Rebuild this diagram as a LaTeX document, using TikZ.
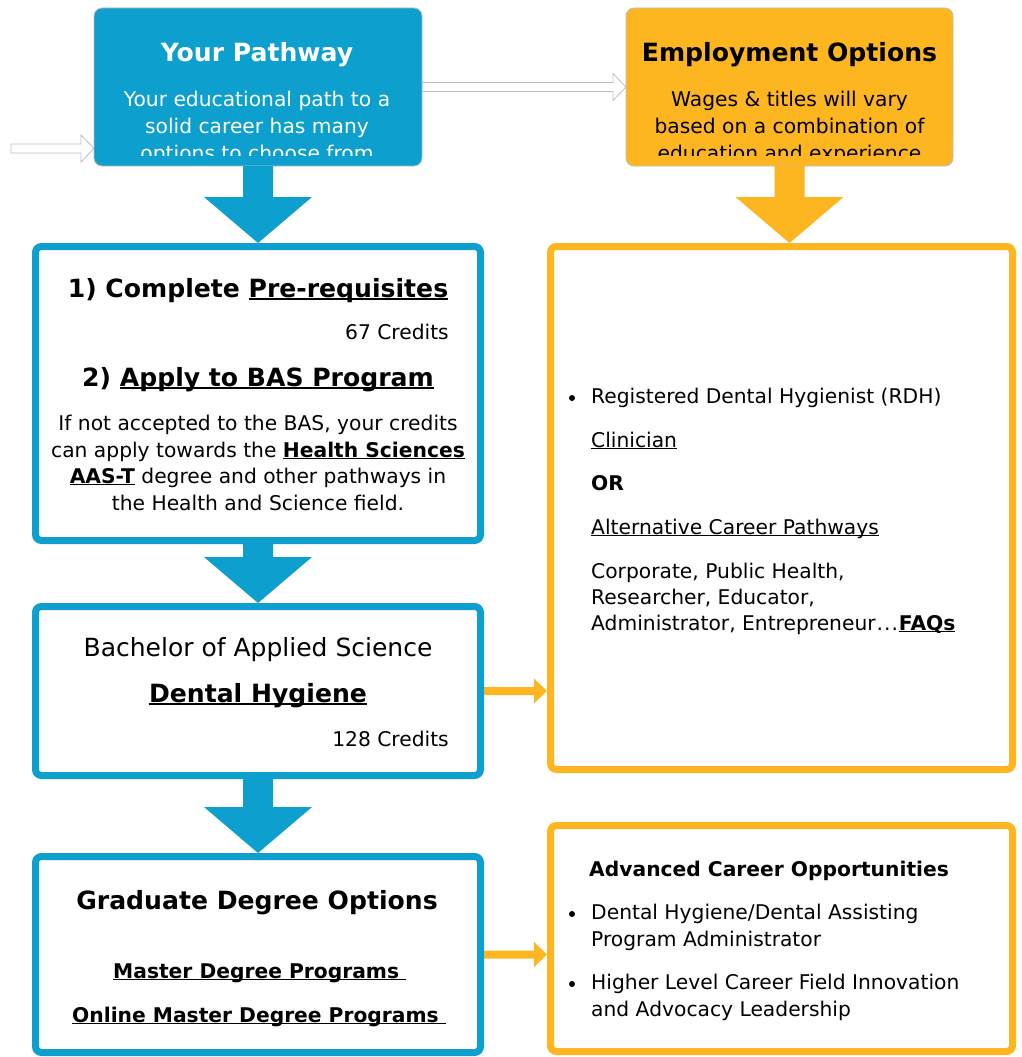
\documentclass[tikz,border=0pt]{standalone}
\usepackage{fontspec}
\setmainfont{DejaVu Sans}
\usetikzlibrary{calc}
\definecolor{cblue}{RGB}{13,159,206}
\definecolor{corange}{RGB}{253,181,32}
\definecolor{cgray}{RGB}{190,190,190}
\newcommand\myul[1]{{\setbox0=\hbox{#1}\rlap{\copy0}\rule[-0.12em]{\wd0}{0.065em}}}
\newcommand\hdfont{\fontsize{25.1}{30}\selectfont\bfseries}
\newcommand\bigfont{\fontsize{25}{30}\selectfont}
\newcommand\txfont{\fontsize{20.25}{26}\selectfont}
\newcommand\blockdown[3]{%
  \coordinate (tmptip) at (#1.south |- #2.north);
  \fill[#3] ($(#1.south)+(-15,0)$) -- ($(#1.south)+(15,0)$) -- ($(tmptip)+(15,-46)$) --
    ($(tmptip)+(54,-46)$) -- (tmptip) -- ($(tmptip)+(-54,-46)$) -- ($(tmptip)+(-15,-46)$) -- cycle;}
\newcommand\sidearrow[2]{%
  \coordinate (tmptip) at (#2.west |- #1.east);
  \fill[corange] ($(#1.east)+(0,-4)$) -- ($(tmptip)+(-13,-4)$) -- ($(tmptip)+(-13,-12.5)$) --
    (tmptip) -- ($(tmptip)+(-13,12.5)$) -- ($(tmptip)+(-13,4)$) -- ($(#1.east)+(0,4)$) -- cycle;}
\newcommand\hollowarrow[2]{%
  \filldraw[fill=white, draw=cgray, line width=0.8pt] ($(#1)+(0,-4.5)$) -- ($(#2)+(-13,-4.5)$) -- ($(#2)+(-13,-13.5)$) --
    (#2) -- ($(#2)+(-13,13.5)$) -- ($(#2)+(-13,4.5)$) -- ($(#1)+(0,4.5)$) -- cycle;}
\begin{document}
\begin{tikzpicture}[x=1pt,y=-1pt,
  topbox/.style={rounded corners=8pt, draw=cgray, line width=0.8pt, inner sep=0pt, outer sep=0pt,
    minimum width=328pt, minimum height=158pt},
  bframe/.style={rounded corners=6pt, draw=cblue, line width=7pt, fill=white, inner sep=0pt, outer sep=3.5pt},
  oframe/.style={rounded corners=6pt, draw=corange, line width=7pt, fill=white, inner sep=0pt, outer sep=3.5pt},
  ctext/.style={anchor=base, inner sep=0pt, font=\txfont},
  ltext/.style={anchor=base west, inner sep=0pt, font=\txfont},
  rtext/.style={anchor=base east, inner sep=0pt, font=\txfont},
  bul/.style={circle, fill=black, inner sep=0pt, minimum size=6pt}]
\useasboundingbox (0,0) rectangle (1022,1057);
\fill[white] (0,0) rectangle (1022,1057);

% hollow arrows (drawn first, under the boxes)
\coordinate (inl) at (11,148.5);
\coordinate (ptip) at (94,148.5);
\coordinate (midtail) at (422,87);
\coordinate (midtip) at (626,87);
\hollowarrow{inl}{ptip}
\hollowarrow{midtail}{midtip}
\node[topbox, fill=cblue] (path) at (258,87) {};
\node[topbox, fill=corange, minimum width=327pt] (emp) at (789.5,87) {};

% top box texts (clipped)
\begin{scope}
\clip (94,8) rectangle (422,155);
\node[ctext, font=\hdfont, text=white] (pt) at (257,62) {Your Pathway};
\node[ctext, text=white] (p1) at (257,106) {Your educational path to a};
\node[ctext, text=white] (p2) at (257,133) {solid career has many};
\node[ctext, text=white] (p3) at (257,160) {options to choose from};
\end{scope}
\begin{scope}
\clip (626,8) rectangle (953,155);
\node[ctext, font=\hdfont] (et) at (789.5,62) {Employment Options};
\node[ctext] (e1) at (789.5,106) {Wages \& titles will vary};
\node[ctext] (e2) at (789.5,133) {based on a combination of};
\node[ctext] (e3) at (789.5,160) {education and experience};
\end{scope}

% frames
\node[bframe, minimum width=445pt, minimum height=294pt] (b1) at (258,393.5) {};
\node[bframe, minimum width=445pt, minimum height=169pt] (b2) at (258,691) {};
\node[bframe, minimum width=445pt, minimum height=196pt] (b3) at (258,954.5) {};
\node[oframe, minimum width=462pt, minimum height=523pt] (o1) at (781.5,508) {};
\node[oframe, minimum width=462pt, minimum height=226pt] (o2) at (781.5,938.5) {};

% block arrows
\blockdown{path}{b1}{cblue}
\blockdown{b1}{b2}{cblue}
\blockdown{b2}{b3}{cblue}
\blockdown{emp}{o1}{corange}
\sidearrow{b2}{o1}
\sidearrow{b3}{o2}

% box 1
\node[ctext, font=\hdfont] (s1) at (258,297) {1) Complete \myul{Pre-requisites}};
\node[rtext] (c67) at (449,339) {67 Credits};
\node[ctext, font=\hdfont] (s2) at (258,386) {2) \myul{Apply to BAS Program}};
\node[ctext] (q1) at (258,430) {If not accepted to the BAS, your credits};
\node[ctext] (q2) at (258,457) {can apply towards the \textbf{\myul{Health Sciences}}};
\node[ctext] (q3) at (258,483) {\textbf{\myul{AAS-T}} degree and other pathways in};
\node[ctext] (q4) at (258,510) {the Health and Science field.};

% box 2
\node[ctext, font=\bigfont] (bas) at (258,656) {Bachelor of Applied Science};
\node[ctext, font=\hdfont] (dh) at (258,702) {\myul{Dental Hygiene}};
\node[rtext] (c128) at (449,746) {128 Credits};

% box 3
\node[ctext, font=\hdfont] (gdo) at (257,909) {Graduate Degree Options};
\node[ltext, font=\txfont\bfseries] (mdp) at (113,978) {\myul{Master Degree Programs\ }};
\node[ltext, font=\txfont\bfseries] (omdp) at (72,1022) {\myul{Online Master Degree Programs\ }};

% orange box 1
\node[bul] (d1) at (572,398) {};
\node[ltext] (r1) at (591,403) {Registered Dental Hygienist (RDH)};
\node[ltext] (r2) at (591,447) {\myul{Clinician}};
\node[ltext, font=\txfont\bfseries] (r3) at (591,490) {OR};
\node[ltext] (r4) at (591,534) {\myul{Alternative Career Pathways}};
\node[ltext] (r5) at (591,578) {Corporate, Public Health,};
\node[ltext] (r6) at (591,604) {Researcher, Educator,};
\node[ltext] (r7) at (591,630) {Administrator, Entrepreneur\kern1pt.\kern1pt.\kern1pt.\kern1pt\textbf{\myul{FAQs}}};

% orange box 2
\node[ltext, font=\txfont\bfseries] (aco) at (589,876) {Advanced Career Opportunities};
\node[bul] (d2) at (572,914) {};
\node[ltext] (a1) at (591,919) {Dental Hygiene/Dental Assisting};
\node[ltext] (a2) at (591,946) {Program Administrator};
\node[bul] (d3) at (572,984) {};
\node[ltext] (a3) at (591,989) {Higher Level Career Field Innovation};
\node[ltext] (a4) at (591,1016) {and Advocacy Leadership};
\end{tikzpicture}
\end{document}
